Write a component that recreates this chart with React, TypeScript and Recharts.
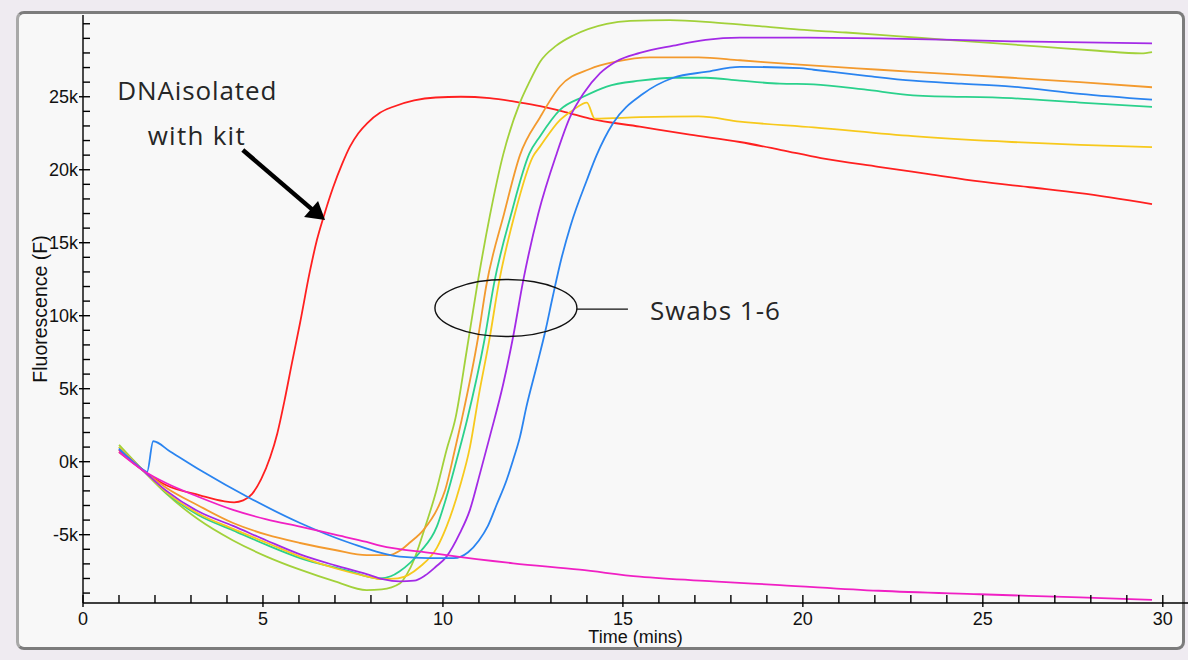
import React from 'react';
import { LineChart, Line, XAxis, YAxis, ReferenceLine, ReferenceDot } from 'recharts';

type P = [number, number];

// time (mins), fluorescence (k)
const kitDNA: P[] = [
  [1.0, 0.8], [1.67, -0.6], [2.3, -1.6], [3.25, -2.3], [3.9, -2.7], [4.2, -2.78], [4.45, -2.65],
  [4.7, -2.2], [4.95, -1.2], [5.2, 0.3], [5.4, 1.95], [5.6, 4.2], [5.8, 6.7], [6.03, 9.5], [6.3, 13.0],
  [6.5, 15.2], [6.7, 16.9], [6.95, 18.8], [7.2, 20.4], [7.42, 21.6], [7.65, 22.5], [7.9, 23.2],
  [8.25, 23.9], [8.6, 24.3], [9.2, 24.75], [9.8, 24.95], [10.5, 25.0], [11.3, 24.9], [12.1, 24.62],
  [12.7, 24.36], [13.4, 23.95], [14.08, 23.5], [15.47, 22.95], [16.86, 22.4], [18.25, 21.9],
  [19.4, 21.35], [20.5, 20.8], [22.1, 20.2], [23.5, 19.7], [24.9, 19.2], [26.3, 18.8], [27.7, 18.4],
  [29.7, 17.65],
];

const swab1: P[] = [
  [1.0, 1.15], [1.67, -0.6], [2.32, -2.2], [3.2, -3.95], [4.17, -5.4], [5.1, -6.5], [6.03, -7.4],
  [7.0, -8.2], [7.88, -8.8], [8.3, -8.75], [8.8, -8.35], [9.0, -7.7], [9.2, -6.7], [9.45, -4.9],
  [9.82, -1.95], [10.1, 0.8], [10.35, 3.0], [10.66, 7.6], [10.94, 11.9], [11.3, 16.8], [11.67, 21.0],
  [12.14, 24.6], [12.4, 26.0], [12.7, 27.4], [13.15, 28.5], [13.62, 29.2], [14.55, 30.0], [15.2, 30.2],
  [16.3, 30.25], [17.5, 30.1], [18.7, 29.85], [19.9, 29.6], [21.2, 29.4], [22.6, 29.15], [24.0, 28.9],
  [25.4, 28.65], [26.8, 28.4], [28.2, 28.15], [29.4, 27.97], [29.7, 28.06],
];

const swab2: P[] = [
  [1.0, 0.66], [1.67, -0.6], [2.32, -1.8], [3.2, -3.0], [4.17, -4.2], [5.1, -5.0], [6.03, -5.57],
  [7.0, -6.05], [7.88, -6.4], [8.5, -6.4], [8.8, -6.1], [9.1, -5.5], [9.45, -4.7], [9.87, -3.1],
  [10.06, -1.95], [10.33, 0.8], [10.52, 2.86], [10.98, 8.56], [11.2, 12.0], [11.7, 17.0], [12.14, 21.0],
  [12.7, 23.6], [13.25, 25.7], [14.08, 26.9], [14.8, 27.4], [15.75, 27.7], [17.1, 27.7], [18.25, 27.5],
  [19.9, 27.2], [21.5, 26.95], [23.06, 26.7], [25.8, 26.3], [27.7, 26.0], [29.7, 25.65],
];

const swab3: P[] = [
  [1.0, 1.0], [1.67, -0.6], [2.32, -2.15], [3.2, -3.65], [4.17, -4.7], [5.1, -5.7], [6.03, -6.6],
  [7.4, -7.5], [7.88, -7.85], [8.25, -8.0], [8.55, -7.85], [8.8, -7.5], [9.36, -6.2], [9.83, -4.45],
  [10.1, -2.4], [10.38, 0.12], [10.67, 2.86], [11.15, 8.3], [11.42, 12.2], [11.9, 17.0], [12.4, 21.1],
  [12.7, 22.3], [13.25, 24.1], [13.9, 25.0], [14.55, 25.7], [15.47, 26.1], [16.4, 26.3], [17.3, 26.3],
  [18.25, 26.1], [19.36, 25.9], [20.3, 25.85], [21.7, 25.5], [23.06, 25.1], [25.8, 24.9], [27.7, 24.6],
  [29.7, 24.3],
];

const swab4: P[] = [
  [1.0, 1.0], [1.67, -0.6], [2.32, -2.1], [3.2, -3.55], [4.17, -4.6], [5.1, -5.55], [6.03, -6.5],
  [7.0, -7.3], [7.88, -7.85], [8.3, -8.05], [8.75, -8.0], [9.36, -7.2], [9.83, -5.9], [10.1, -4.45],
  [10.47, -1.7], [10.75, 1.0], [11.0, 4.6], [11.3, 8.5], [11.55, 12.2], [12.0, 17.0], [12.5, 20.9],
  [12.7, 21.6], [13.25, 23.4], [13.62, 24.1], [14.0, 24.6], [14.22, 23.5], [15.47, 23.6], [17.1, 23.65],
  [18.25, 23.3], [20.3, 22.9], [23.06, 22.3], [25.8, 21.9], [27.7, 21.7], [29.7, 21.55],
];

const swab5: P[] = [
  [1.0, 0.85], [1.67, -0.6], [2.32, -2.0], [3.2, -3.4], [4.17, -4.4], [5.1, -5.4], [6.03, -6.35],
  [7.0, -7.1], [7.88, -7.7], [8.33, -8.05], [8.8, -8.2], [9.2, -8.15], [9.5, -7.8], [9.8, -7.2],
  [10.1, -6.5], [10.47, -4.9], [10.75, -3.3], [11.03, -0.8], [11.3, 1.7], [11.68, 5.37], [11.95, 8.56],
  [12.23, 12.4], [12.65, 17.0], [13.16, 21.1], [13.53, 23.6], [13.9, 25.2], [14.36, 26.6], [14.8, 27.4],
  [15.47, 28.0], [16.4, 28.5], [17.3, 28.9], [18.25, 29.05], [19.9, 29.05], [22.1, 29.0], [25.8, 28.8],
  [29.7, 28.66],
];

const swab6: P[] = [
  [1.0, 0.9], [1.67, -0.55], [1.78, -0.7], [1.95, 1.4], [2.42, 0.7], [3.25, -0.57], [4.64, -2.5],
  [6.03, -4.2], [7.42, -5.57], [8.8, -6.5], [9.6, -6.6], [10.3, -6.6], [10.7, -6.2], [11.0, -5.4],
  [11.25, -4.4], [11.5, -2.9], [11.77, -1.25], [11.95, 0.12], [12.14, 1.7], [12.32, 3.77], [12.6, 6.5],
  [12.85, 9.0], [13.05, 11.3], [13.3, 14.0], [13.55, 16.2], [14.0, 19.3], [14.27, 21.0], [14.73, 23.2],
  [15.56, 25.2], [16.4, 26.3], [17.3, 26.7], [18.25, 27.05], [19.9, 26.96], [20.3, 26.85], [21.7, 26.45],
  [23.06, 26.1], [24.4, 25.9], [25.8, 25.7], [27.7, 25.2], [29.7, 24.8],
];

const negControl: P[] = [
  [1.0, 0.66], [1.67, -0.6], [2.32, -1.48], [3.2, -2.4], [4.17, -3.3], [5.1, -3.95], [6.03, -4.45],
  [7.0, -5.0], [7.88, -5.5], [8.25, -5.75], [9.73, -6.27], [10.1, -6.4], [11.95, -6.96], [13.8, -7.4],
  [15.47, -7.88], [17.5, -8.2], [19.36, -8.45], [22.1, -8.84], [24.9, -9.08], [27.7, -9.3], [29.7, -9.47],
];

const xTicks = [0, 1, 2, 3, 4, 5, 6, 7, 8, 9, 10, 11, 12, 13, 14, 15, 16, 17, 18, 19, 20, 21, 22, 23, 24, 25, 26, 27, 28, 29, 30];
const yTicks = [-9, -8, -7, -6, -5, -4, -3, -2, -1, 0, 1, 2, 3, 4, 5, 6, 7, 8, 9, 10, 11, 12, 13, 14, 15, 16, 17, 18, 19, 20, 21, 22, 23, 24, 25, 26, 27, 28, 29, 30];
const yLabelled = [-5, 0, 5, 10, 15, 20, 25];

const series = [
  { key: 'kit', color: '#ff2020', pts: kitDNA },
  { key: 's1', color: '#a2d13a', pts: swab1 },
  { key: 's2', color: '#f39a2e', pts: swab2 },
  { key: 's3', color: '#2ad18c', pts: swab3 },
  { key: 's4', color: '#f7c91c', pts: swab4 },
  { key: 's5', color: '#a32ae6', pts: swab5 },
  { key: 's6', color: '#2a84f0', pts: swab6 },
  { key: 'neg', color: '#f020c4', pts: negControl },
];

const toRows = (pts: P[]) => pts.map(([x, y]) => ({ x, y }));

const AXIS_FONT = '"Liberation Sans", Arial, sans-serif';
const NOTE_FONT = '"Open Sans", "Noto Sans", sans-serif';

const XTick = (props: any) => {
  const { x, y, payload } = props;
  const v = payload.value;
  const major = v % 5 === 0;
  return (
    <g>
      <line x1={x} x2={x} y1={y - 8} y2={major ? y + 4 : y} stroke="#000" strokeWidth={1.4} />
      {major && (
        <text x={x} y={y + 22} textAnchor="middle" fontFamily={AXIS_FONT} fontSize={18} fill="#111">
          {v}
        </text>
      )}
    </g>
  );
};

const YTick = (props: any) => {
  const { x, y, payload } = props;
  const v = payload.value;
  const labelled = yLabelled.includes(v);
  return (
    <g>
      <line x1={labelled ? x - 4 : x} x2={x + 7} y1={y} y2={y} stroke="#000" strokeWidth={1.4} />
      {labelled && (
        <text x={x - 5} y={y + 6.5} textAnchor="end" fontFamily={AXIS_FONT} fontSize={18} fill="#111">
          {`${v}k`}
        </text>
      )}
    </g>
  );
};

const XLabel = (props: any) => {
  const vb = props.viewBox;
  return (
    <text x={vb.x + vb.width / 2} y={vb.y + 40} textAnchor="middle" fontFamily={AXIS_FONT} fontSize={18} fill="#111">
      Time (mins)
    </text>
  );
};

const YLabel = (props: any) => {
  const vb = props.viewBox;
  const cx = vb.x + 47;
  const cy = vb.y + vb.height / 2;
  return (
    <text x={cx} y={cy} transform={`rotate(-90 ${cx} ${cy})`} textAnchor="middle" fontFamily={AXIS_FONT} fontSize={19.5} fill="#111">
      Fluorescence (F)
    </text>
  );
};

const noteText = (label: string, len: number) => (p: any) => (
  <text x={p.cx} y={p.cy} fontFamily={NOTE_FONT} fontSize={26} fill="#262626" textLength={len} lengthAdjust="spacing">
    {label}
  </text>
);

export default function App() {
  return (
    <div style={{ position: 'fixed', left: 0, top: 0, width: 1188, height: 660, background: '#efebf1', overflow: 'hidden' }}>
      <div
        style={{
          position: 'absolute', left: 16, top: 11, width: 1169, height: 639, boxSizing: 'border-box',
          border: '3px solid #7c7c7c', borderLeftColor: '#a8a8a8', borderRadius: 8, background: '#f8f8f8',
        }}
      />
      <div style={{ position: 'absolute', left: 0, top: 0 }}>
        <LineChart width={1188} height={660} margin={{ top: 15, right: 0, bottom: 27, left: 0 }}>
          <XAxis
            type="number"
            dataKey="x"
            domain={[0, 30.7]}
            allowDataOverflow
            ticks={xTicks}
            interval={0}
            tick={<XTick />}
            tickLine={false}
            tickSize={0}
            tickMargin={0}
            height={30}
            axisLine={{ stroke: '#000', strokeWidth: 1.4 }}
            label={XLabel}
          />
          <YAxis
            type="number"
            dataKey="y"
            domain={[-9.68, 30.6]}
            allowDataOverflow
            ticks={yTicks}
            interval={0}
            tick={<YTick />}
            tickLine={false}
            tickSize={0}
            tickMargin={0}
            width={83}
            axisLine={{ stroke: '#000', strokeWidth: 1.4 }}
            label={YLabel}
          />
          {series.map((s) => (
            <Line
              key={s.key}
              data={toRows(s.pts)}
              dataKey="y"
              type="monotone"
              stroke={s.color}
              strokeWidth={1.8}
              dot={false}
              activeDot={false}
              isAnimationActive={false}
            />
          ))}
          <ReferenceDot x={0.953} y={24.77} r={0} ifOverflow="visible" shape={noteText('DNAisolated', 159)} />
          <ReferenceDot x={1.797} y={21.69} r={0} ifOverflow="visible" shape={noteText('with kit', 97)} />
          <ReferenceDot x={15.75} y={9.71} r={0} ifOverflow="visible" shape={noteText('Swabs 1-6', 130)} />
          <ReferenceLine
            segment={[{ x: 4.44, y: 21.35 }, { x: 6.38, y: 17.25 }]}
            stroke="#000"
            strokeWidth={4.5}
            ifOverflow="visible"
          />
          <ReferenceDot
            x={6.725}
            y={16.55}
            r={0}
            ifOverflow="visible"
            shape={(p: any) => (
              <polygon
                points={`${p.cx},${p.cy} ${p.cx - 21},${p.cy - 3} ${p.cx - 7},${p.cy - 19}`}
                fill="#000"
              />
            )}
          />
          <ReferenceDot
            x={11.75}
            y={10.53}
            r={0}
            ifOverflow="visible"
            shape={(p: any) => (
              <ellipse cx={p.cx} cy={p.cy} rx={71} ry={28.5} fill="none" stroke="#111" strokeWidth={1.4} />
            )}
          />
          <ReferenceLine
            segment={[{ x: 13.72, y: 10.45 }, { x: 15.14, y: 10.45 }]}
            stroke="#111"
            strokeWidth={1.4}
            ifOverflow="visible"
          />
        </LineChart>
      </div>
    </div>
  );
}
